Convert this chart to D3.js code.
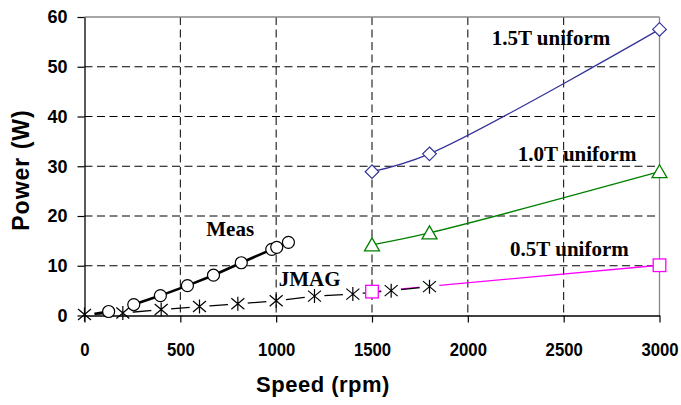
<!DOCTYPE html>
<html><head><meta charset="utf-8">
<script src="https://cdn.jsdelivr.net/npm/d3@7/dist/d3.min.js"></script>
<style>
html,body{margin:0;padding:0;background:#fff;}
svg{display:block;}
</style></head>
<body>
<svg id="chart" width="681" height="405"></svg>
<script>
// ---- data ----
const xTicks = [0, 500, 1000, 1500, 2000, 2500, 3000];
const yTicks = [0, 10, 20, 30, 40, 50, 60];

const measSpeed = [0, 126, 257, 396, 537, 673, 818, 977, 1003, 1064];
const measPower = [0, 0.8, 2.2, 4.0, 6.0, 8.1, 10.6, 13.3, 13.7, 14.7];

const jmagSpeed = [0, 200, 400, 600, 800, 1000, 1200, 1400, 1600, 1800];
const jmagPower = [0.2, 0.5, 1.2, 1.8, 2.35, 2.95, 3.9, 4.3, 5.0, 5.8];

const t05Speed = [1500, 3000];
const t05Power = [4.8, 10.1];

const t10Speed = [1500, 1800, 3000];
const t10Power = [14.2, 16.6, 28.9];

const t15Speed = [1500, 1800, 3000];
const t15Power = [28.9, 32.5, 57.5];

const labels = [
  {text: "1.5T uniform", s: 2434, p: 54.4},
  {text: "1.0T uniform", s: 2570, p: 31.0},
  {text: "0.5T uniform", s: 2530, p: 11.9},
  {text: "Meas", s: 760, p: 16.0},
  {text: "JMAG", s: 1175, p: 6.0}
];

// ---- layout ----
const svg = d3.select("#chart");
const L = 84.5, R = 659.5, T = 17, B = 315.5;
const x = d3.scaleLinear().domain([0, 3000]).range([L, R]);
const y = d3.scaleLinear().domain([0, 60]).range([B, T]);

const zip = (a, b) => a.map((v, i) => [v, b[i]]);

// grid
const grid = svg.append("g");
grid.selectAll("line.h").data(yTicks.filter(v => v > 0 && v < 60)).enter().append("line")
  .attr("x1", L).attr("x2", R).attr("y1", d => y(d)).attr("y2", d => y(d))
  .attr("stroke", "#000").attr("stroke-width", 1).attr("stroke-dasharray", "8,4.5");
grid.selectAll("line.v").data(xTicks.filter(v => v > 0 && v < 3000)).enter().append("line")
  .attr("y1", T).attr("y2", B).attr("x1", d => x(d)).attr("x2", d => x(d))
  .attr("stroke", "#000").attr("stroke-width", 1).attr("stroke-dasharray", "8,4.5");
// plot border top/right grey
svg.append("line").attr("x1", L).attr("x2", R).attr("y1", T).attr("y2", T).attr("stroke", "#888").attr("stroke-width", 1.3);
svg.append("line").attr("x1", R).attr("x2", R).attr("y1", T).attr("y2", B).attr("stroke", "#888").attr("stroke-width", 1.3);

// mask around JMAG markers
const defs = svg.append("defs");
const mask = defs.append("mask").attr("id", "xmask").attr("maskUnits", "userSpaceOnUse")
  .attr("x", 0).attr("y", 0).attr("width", 681).attr("height", 405);
mask.append("rect").attr("x", 0).attr("y", 0).attr("width", 681).attr("height", 405).attr("fill", "#fff");
mask.selectAll("circle").data(zip(jmagSpeed, jmagPower)).enter().append("circle")
  .attr("cx", d => x(d[0])).attr("cy", d => y(d[1])).attr("r", 10).attr("fill", "#000");

const line = d3.line().x(d => x(d[0])).y(d => y(d[1]));
const smooth = d3.line().x(d => x(d[0])).y(d => y(d[1])).curve(d3.curveCatmullRom.alpha(0.5));

const lines = svg.append("g").attr("mask", "url(#xmask)").attr("fill", "none");
lines.append("path").attr("d", smooth(zip(t15Speed, t15Power))).attr("stroke", "#333399").attr("stroke-width", 1.3);
lines.append("path").attr("d", smooth(zip(t10Speed, t10Power))).attr("stroke", "#008000").attr("stroke-width", 1.3);
lines.append("path").attr("d", smooth(zip(t05Speed, t05Power))).attr("stroke", "#ff00ff").attr("stroke-width", 1.3);
lines.append("path").attr("d", line(zip(jmagSpeed, jmagPower))).attr("stroke", "#000").attr("stroke-width", 1.3);
lines.append("path").attr("d", line(zip(measSpeed, measPower))).attr("stroke", "#000").attr("stroke-width", 2.6);

// axes
const yAxis = svg.append("g").attr("transform", `translate(${L},0)`)
  .call(d3.axisLeft(y).tickValues(yTicks).tickFormat(d3.format("d")).tickSize(7).tickPadding(10).tickSizeOuter(0));
const xAxis = svg.append("g").attr("transform", `translate(0,${B})`)
  .call(d3.axisBottom(x).tickValues(xTicks).tickFormat(d3.format("d")).tickSize(7).tickPadding(20).tickSizeOuter(0));
[yAxis, xAxis].forEach(a => {
  a.select(".domain").attr("stroke", "#000").attr("stroke-width", 1.3);
  a.selectAll(".tick line").attr("stroke", "#000").attr("stroke-width", 1.2);
  a.selectAll(".tick text").attr("fill", "#000")
    .style("font-family", "'Liberation Sans', Arial, sans-serif").style("font-weight", "bold").style("font-size", "18px");
});
xAxis.selectAll(".tick text").attr("transform", "scale(0.88,1)").style("font-size", "19px");

// markers
const mk = svg.append("g");
// diamonds
mk.selectAll("path.dia").data(zip(t15Speed, t15Power)).enter().append("path")
  .attr("d", d => { const cx = x(d[0]), cy = y(d[1]), r = 6.8; return `M${cx},${cy - r}L${cx + r},${cy}L${cx},${cy + r}L${cx - r},${cy}Z`; })
  .attr("fill", "#fff").attr("stroke", "#333399").attr("stroke-width", 1.2);
// triangles
mk.selectAll("path.tri").data(zip(t10Speed, t10Power)).enter().append("path")
  .attr("d", d => { const cx = x(d[0]), cy = y(d[1]); return `M${cx},${cy - 7}L${cx + 7.5},${cy + 6}L${cx - 7.5},${cy + 6}Z`; })
  .attr("fill", "#fff").attr("stroke", "#008000").attr("stroke-width", 1.3);
// squares
mk.selectAll("rect.sq").data(zip(t05Speed, t05Power)).enter().append("rect")
  .attr("x", d => x(d[0]) - 6.3).attr("y", d => y(d[1]) - 6.3).attr("width", 12.6).attr("height", 12.6)
  .attr("fill", "#fff").attr("stroke", "#ff00ff").attr("stroke-width", 1.3);
// asterisks
mk.selectAll("path.ast").data(zip(jmagSpeed, jmagPower)).enter().append("path")
  .attr("d", d => { const cx = x(d[0]), cy = y(d[1]);
    return `M${cx - 6.5},${cy - 5.5}L${cx + 6.5},${cy + 5.5}M${cx - 6.5},${cy + 5.5}L${cx + 6.5},${cy - 5.5}M${cx},${cy - 7}L${cx},${cy + 7}`; })
  .attr("fill", "none").attr("stroke", "#000").attr("stroke-width", 1.2);
// circles
mk.selectAll("circle.m").data(zip(measSpeed, measPower).filter(d => d[0] > 0)).enter().append("circle")
  .attr("cx", d => x(d[0])).attr("cy", d => y(d[1])).attr("r", 6)
  .attr("fill", "#fff").attr("stroke", "#000").attr("stroke-width", 1.2);

// series labels
svg.append("g").selectAll("text").data(labels).enter().append("text")
  .attr("x", d => x(d.s)).attr("y", d => y(d.p))
  .attr("text-anchor", "middle")
  .style("font-family", "'Liberation Serif', 'Times New Roman', serif")
  .style("font-weight", "bold").style("font-size", "21px")
  .text(d => d.text);

// axis titles
svg.append("text").attr("x", 323).attr("y", 392).attr("text-anchor", "middle")
  .style("font-family", "'Liberation Sans', Arial, sans-serif").style("font-weight", "bold")
  .style("font-size", "22px").style("letter-spacing", "0.5px").text("Speed (rpm)");
svg.append("text").attr("transform", "translate(29,170) rotate(-90)").attr("text-anchor", "middle")
  .style("font-family", "'Liberation Sans', Arial, sans-serif").style("font-weight", "bold")
  .style("font-size", "23px").style("letter-spacing", "1px").text("Power (W)");
</script>
</body></html>
